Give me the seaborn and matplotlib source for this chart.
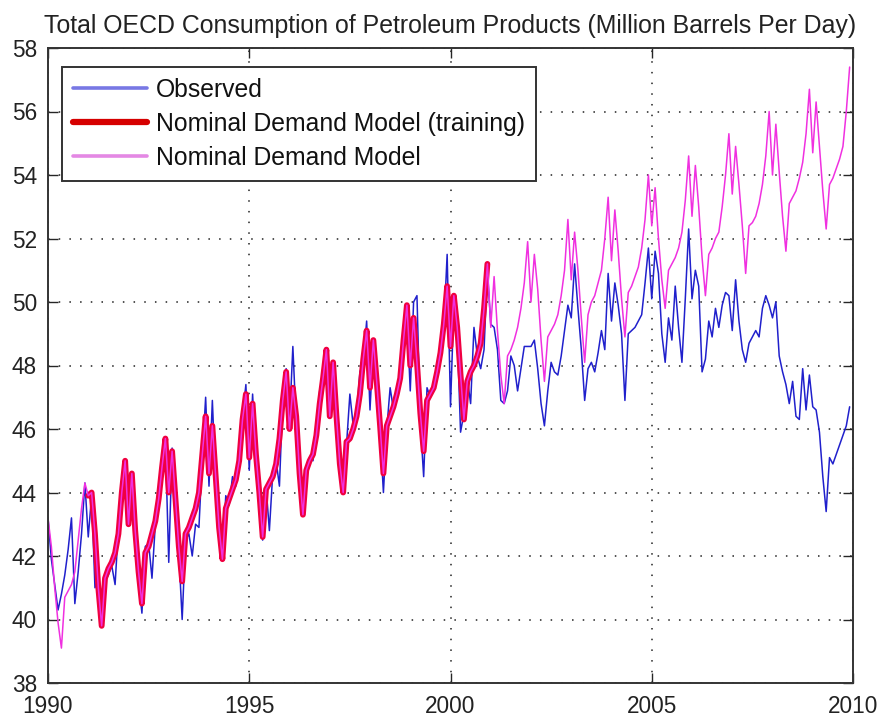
import matplotlib
matplotlib.use("Agg")
import matplotlib.pyplot as plt
from matplotlib.lines import Line2D
import seaborn as sns
import numpy as np
import pandas as pd

# monthly values, Jan 1990 .. Dec 2009
observed = [
    43.2, 41.9, 41.1, 40.3, 40.8, 41.4, 42.2, 43.2, 40.5, 41.5, 42.7, 44.3,
    42.6, 43.9, 41.0, 41.3, 40.0, 41.2, 41.4, 41.7, 41.1, 42.9, 44.2, 44.9,
    43.2, 44.5, 42.6, 41.3, 40.2, 42.3, 42.4, 41.3, 43.0, 43.9, 44.9, 45.6,
    41.8, 45.4, 43.6, 42.1, 40.0, 42.5, 42.7, 42.0, 43.0, 42.9, 45.1, 47.0,
    44.2, 46.9, 44.3, 43.0, 42.0, 43.9, 43.6, 44.5, 44.2, 45.1, 46.4, 47.4,
    44.7, 47.1, 45.0, 44.1, 42.5, 44.2, 42.8, 44.6, 45.0, 44.2, 47.0, 47.9,
    46.2, 48.6, 46.2, 44.5, 43.5, 44.8, 45.1, 45.0, 45.9, 47.2, 47.5, 48.4,
    46.6, 48.0, 46.5, 45.0, 44.0, 45.5, 47.1, 46.1, 46.5, 47.8, 48.1, 49.4,
    46.6, 48.7, 47.3, 45.9, 44.0, 46.0, 47.3, 46.6, 47.0, 47.5, 48.7, 49.6,
    47.2, 50.0, 50.2, 46.2, 44.5, 47.3, 47.0, 47.4, 47.6, 48.6, 49.2, 51.5,
    46.7, 49.9, 49.0, 45.9, 46.5, 47.6, 46.8, 49.2, 48.3, 47.9, 48.5, 51.0,
    49.3, 49.2, 48.5, 46.9, 46.8, 47.2, 48.3, 48.0, 47.2, 47.9, 48.6, 48.6,
    48.6, 48.8, 47.9, 46.8, 46.1, 47.2, 48.1, 47.8, 47.7, 48.3, 49.1, 49.9,
    49.5, 51.2, 49.8, 48.5, 46.9, 47.9, 48.1, 47.8, 48.4, 49.1, 48.5, 50.9,
    49.4, 50.6, 49.9, 49.0, 46.9, 49.0, 49.1, 49.2, 49.4, 49.6, 50.6, 51.7,
    50.1, 51.6, 50.9, 49.0, 48.1, 49.5, 48.8, 50.5, 49.2, 48.1, 50.1, 52.3,
    50.1, 51.0, 50.5, 47.8, 48.2, 49.4, 48.9, 49.8, 49.2, 49.9, 50.3, 50.2,
    49.1, 50.7, 49.4, 48.5, 48.1, 48.7, 48.9, 49.1, 48.9, 49.8, 50.2, 49.9,
    49.5, 50.0, 48.3, 47.8, 47.4, 46.8, 47.5, 46.4, 46.3, 47.9, 46.6, 47.7,
    46.7, 46.6, 45.9, 44.5, 43.4, 45.1, 44.9, 45.2, 45.5, 45.8, 46.1, 46.7,
]

model = [
    43.2, 42.3, 41.0, 39.9, 39.1, 40.7, 40.9, 41.1, 41.5, 42.5, 43.5, 44.3,
    43.9, 44.0, 42.7, 41.0, 39.8, 41.3, 41.6, 41.8, 42.1, 42.7, 44.0, 45.0,
    43.0, 44.6, 42.8, 41.5, 40.5, 42.1, 42.3, 42.7, 43.1, 43.8, 44.8, 45.7,
    44.0, 45.3, 43.8, 42.3, 41.2, 42.7, 42.9, 43.2, 43.5, 44.0, 45.2, 46.4,
    44.6, 46.1, 44.5, 42.9, 41.9, 43.5, 43.8, 44.1, 44.4, 45.0, 46.3, 47.1,
    45.1, 46.8, 45.2, 44.0, 42.6, 44.1, 44.3, 44.5, 44.9, 45.7, 46.9, 47.8,
    46.0, 47.3, 46.4, 44.6, 43.3, 44.7, 45.0, 45.2, 45.8, 46.8, 47.6, 48.5,
    46.4, 48.1, 46.4, 44.9, 44.0, 45.6, 45.7, 46.0, 46.4, 47.1, 48.2, 49.1,
    47.3, 48.8, 47.5, 46.1, 44.6, 46.1, 46.4, 46.7, 47.1, 47.6, 48.8, 49.9,
    48.0, 49.5, 48.1, 46.5, 45.3, 46.9, 47.1, 47.3, 47.8, 48.4, 49.3, 50.5,
    48.6, 50.2, 49.2, 47.7, 46.3, 47.5, 47.8, 48.0, 48.3, 48.7, 49.8, 51.2,
    49.2, 50.8, 49.1, 47.7, 46.8, 48.3, 48.5, 48.8, 49.2, 49.8, 50.6, 51.9,
    50.0, 51.5, 50.4, 48.8, 47.5, 48.9, 49.1, 49.3, 49.6, 50.2, 51.0, 52.6,
    50.7, 52.2, 51.0, 49.5, 48.1, 49.6, 50.0, 50.2, 50.6, 51.0, 52.0, 53.3,
    51.3, 52.9, 51.6, 50.1, 48.9, 50.3, 50.5, 50.8, 51.1, 51.7, 52.6, 54.0,
    52.4, 53.6, 52.0, 50.7, 49.8, 51.0, 51.2, 51.4, 51.7, 52.2, 53.2, 54.6,
    52.7, 54.3, 53.0, 51.4, 50.2, 51.5, 51.7, 52.0, 52.2, 53.0, 54.0, 55.3,
    53.4, 54.9, 53.7, 52.4, 50.9, 52.4, 52.5, 52.7, 53.1, 53.7, 54.6, 56.0,
    54.0, 55.6, 54.1, 52.7, 51.6, 53.1, 53.3, 53.5, 53.9, 54.4, 55.3, 56.7,
    54.7, 56.3, 54.9, 53.5, 52.3, 53.7, 53.9, 54.2, 54.5, 54.9, 56.0, 57.4,
]

labels = ["Observed", "Nominal Demand Model (training)", "Nominal Demand Model"]
train_start, train_end = 12, 132   # training window (month index)
years = 1990 + np.arange(len(observed)) / 12

df = pd.DataFrame({"year": years, "observed": observed, "model": model})
train = df.iloc[train_start:train_end]

sns.set_style("white")
plt.rcParams["font.family"] = ["Liberation Sans", "DejaVu Sans"]

fig = plt.figure(figsize=(8.83, 7.19), dpi=100)
ax = fig.add_axes([48 / 883, 1 - 683 / 719, 805 / 883, 635 / 719])

sns.lineplot(data=df, x="year", y="observed", ax=ax, color="#2020cc",
             linewidth=1.1, legend=False)
sns.lineplot(data=train, x="year", y="model", ax=ax, color="#f00040",
             linewidth=4.2, legend=False)
sns.lineplot(data=df, x="year", y="model", ax=ax, color="#f030e0",
             linewidth=1.1, legend=False)

ax.set_xlim(1990, 2010)
ax.set_ylim(38, 58)
ax.set_xticks([1990, 1995, 2000, 2005, 2010])
ax.set_yticks(np.arange(38, 59, 2))
ax.set_xlabel("")
ax.set_ylabel("")
ax.grid(True, linestyle=(0, (1, 6)), color="#222222", linewidth=1.1)
ax.tick_params(direction="in", length=7, width=1, labelsize=16.3,
               labelcolor="#222222", top=True, right=True, bottom=True, left=True)
ax.tick_params(axis="x", pad=8.5)
ax.tick_params(axis="y", pad=8)
for sp in ax.spines.values():
    sp.set_color("#333333")
    sp.set_linewidth(1.4)

ax.set_title("Total OECD Consumption of Petroleum Products (Million Barrels Per Day)",
             fontsize=17.9, pad=11, color="#222222")

handles = [
    Line2D([], [], color="#7878e4", linewidth=2.6),
    Line2D([], [], color="#d60000", linewidth=4.5),
    Line2D([], [], color="#e488e4", linewidth=2.6),
]
leg = ax.legend(handles, labels, loc="upper left",
                bbox_to_anchor=(62 / 883, 1 - 67 / 719),
                bbox_transform=fig.transFigure, borderaxespad=0, fontsize=17.8,
                handlelength=3.0, handletextpad=0.35, labelspacing=0.4,
                borderpad=0.45, fancybox=False, framealpha=1)
leg.get_frame().set_edgecolor("#333333")
leg.get_frame().set_linewidth(1.4)
for t in leg.get_texts():
    t.set_color("#111111")

fig.savefig("out.png", dpi=100)
